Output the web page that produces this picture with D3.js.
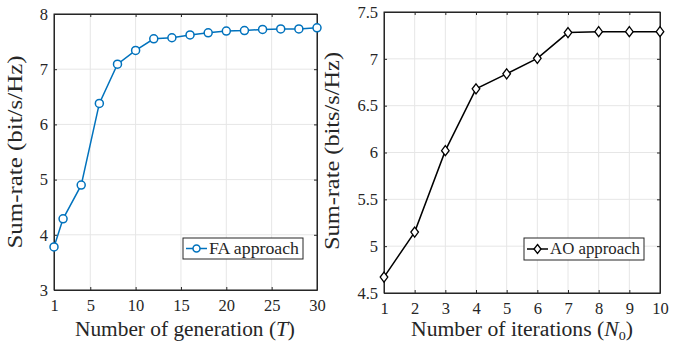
<!DOCTYPE html>
<html><head><meta charset="utf-8">
<script src="https://cdn.jsdelivr.net/npm/d3@7"></script>
<style>body{margin:0;background:#fff}svg{display:block}text{font-family:"Liberation Serif","DejaVu Serif",serif;fill:#262626}</style>
</head><body><svg id="c" width="689" height="348"></svg>
<script>
// Left panel: FA approach
const faX = [1,2,4,6,8,10,12,14,16,18,20,22,24,26,28,30];
const faY = [3.78,4.29,4.90,6.38,7.09,7.34,7.55,7.57,7.62,7.66,7.69,7.70,7.72,7.73,7.73,7.75];
const faXTicks = [1,5,10,15,20,25,30];
const faYTicks = [3,4,5,6,7,8];
// Right panel: AO approach
const aoX = [1,2,3,4,5,6,7,8,9,10];
const aoY = [4.67,5.15,6.02,6.68,6.84,7.005,7.28,7.29,7.29,7.29];
const aoXTicks = [1,2,3,4,5,6,7,8,9,10];
const aoYTicks = [4.5,5,5.5,6,6.5,7,7.5];

const svg = d3.select("#c");

function panel(o){
  const g = svg.append("g");
  const x = d3.scaleLinear().domain(o.xd).range([o.l,o.r]);
  const y = d3.scaleLinear().domain(o.yd).range([o.b,o.t]);
  // grid
  g.selectAll(".gx").data(o.xt).join("line").attr("x1",d=>x(d)).attr("x2",d=>x(d)).attr("y1",o.t).attr("y2",o.b).attr("stroke","#e6e6e6").attr("stroke-width",1);
  g.selectAll(".gy").data(o.yt).join("line").attr("y1",d=>y(d)).attr("y2",d=>y(d)).attr("x1",o.l).attr("x2",o.r).attr("stroke","#e6e6e6").attr("stroke-width",1);
  // axes with inward ticks
  const fmt = d=>String(d);
  const ab = g.append("g").attr("transform",`translate(0,${o.b})`).call(d3.axisBottom(x).tickValues(o.xt).tickFormat(fmt).tickSizeInner(-3).tickSizeOuter(0).tickPadding(9));
  const at = g.append("g").attr("transform",`translate(0,${o.t})`).call(d3.axisTop(x).tickValues(o.xt).tickFormat("").tickSizeInner(-3).tickSizeOuter(0));
  const al = g.append("g").attr("transform",`translate(${o.l},0)`).call(d3.axisLeft(y).tickValues(o.yt).tickFormat(fmt).tickSizeInner(-3).tickSizeOuter(0).tickPadding(6));
  const ar = g.append("g").attr("transform",`translate(${o.r},0)`).call(d3.axisRight(y).tickValues(o.yt).tickFormat("").tickSizeInner(-3).tickSizeOuter(0));
  [ab,at,al,ar].forEach(a=>{a.selectAll("path,line").attr("stroke","#262626");a.selectAll("text").attr("font-size",16.5).style("font-family",'"Liberation Serif",serif').attr("fill","#262626");});
  g.append("rect").attr("x",o.l).attr("y",o.t).attr("width",o.r-o.l).attr("height",o.b-o.t).attr("fill","none").attr("stroke","#262626").attr("stroke-width",1);
  // line
  const pts = o.xs.map((v,i)=>[v,o.ys[i]]);
  g.append("path").datum(pts).attr("d",d3.line().x(d=>x(d[0])).y(d=>y(d[1]))).attr("fill","none").attr("stroke",o.color).attr("stroke-width",1.5);
  if(o.marker==="circle"){
    g.selectAll(".m").data(pts).join("circle").attr("cx",d=>x(d[0])).attr("cy",d=>y(d[1])).attr("r",4).attr("fill","#fff").attr("stroke",o.color).attr("stroke-width",1.5);
  } else {
    g.selectAll(".m").data(pts).join("path").attr("d",d=>{const cx=x(d[0]),cy=y(d[1]);return `M${cx},${cy-5}L${cx+3.8},${cy}L${cx},${cy+5}L${cx-3.8},${cy}Z`;}).attr("fill","#fff").attr("stroke",o.color).attr("stroke-width",1.3);
  }
  // labels
  g.append("text").attr("x",o.xlx).attr("y",336).attr("text-anchor","middle").attr("font-size",20).attr("textLength",o.xlLen).attr("lengthAdjust","spacingAndGlyphs").html(o.xlabel);
  g.append("text").attr("transform",`translate(${o.ylx},${o.ylc}) rotate(-90)`).attr("text-anchor","middle").attr("font-size",20).attr("textLength",o.ylLen).attr("lengthAdjust","spacingAndGlyphs").text(o.ylabel);
  // legend
  const L=o.leg;
  g.append("rect").attr("x",L.x).attr("y",L.y).attr("width",L.w).attr("height",L.h).attr("fill","#fff").attr("stroke","#262626").attr("stroke-width",1);
  const ly=L.y+L.h/2;
  g.append("line").attr("x1",L.x+3).attr("x2",L.x+24).attr("y1",ly).attr("y2",ly).attr("stroke",o.color).attr("stroke-width",1.5);
  const mx=L.x+13.5;
  if(o.marker==="circle") g.append("circle").attr("cx",mx).attr("cy",ly).attr("r",3.5).attr("fill","#fff").attr("stroke",o.color).attr("stroke-width",1.5);
  else g.append("path").attr("d",`M${mx},${ly-4.5}L${mx+3.5},${ly}L${mx},${ly+4.5}L${mx-3.5},${ly}Z`).attr("fill","#fff").attr("stroke",o.color).attr("stroke-width",1.3);
  g.append("text").attr("x",L.x+26).attr("y",ly+5).attr("font-size",17).attr("textLength",L.w-30).attr("lengthAdjust","spacingAndGlyphs").text(o.legText);
}

panel({xd:[1,30],yd:[3,8],l:54,r:317,t:14,b:290,xt:faXTicks,yt:faYTicks,xs:faX,ys:faY,color:"#0072BD",marker:"circle",
  xlabel:'Number of generation (<tspan font-style="italic">T</tspan>)',xlx:185,xlLen:220,ylabel:"Sum-rate (bit/s/Hz)",ylx:22,ylc:152,ylLen:193,
  leg:{x:183,y:238,w:120,h:21},legText:"FA approach"});
panel({xd:[1,10],yd:[4.5,7.5],l:384,r:660,t:12,b:293,xt:aoXTicks,yt:aoYTicks,xs:aoX,ys:aoY,color:"#000",marker:"diamond",
  xlabel:'Number of iterations (<tspan font-style="italic">N</tspan><tspan font-size="13" dy="4">0</tspan><tspan dy="-4">)</tspan>',xlx:522,xlLen:222,ylabel:"Sum-rate (bits/s/Hz)",ylx:339,ylc:151,ylLen:198,
  leg:{x:524,y:238,w:120,h:22},legText:"AO approach"});
</script></body></html>
